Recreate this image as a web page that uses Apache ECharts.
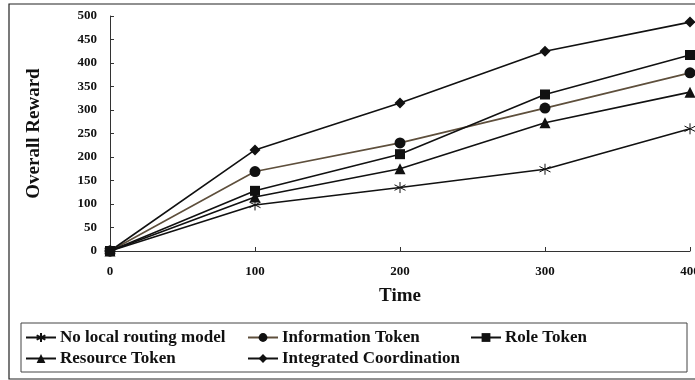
<!DOCTYPE html>
<html>
<head>
<meta charset="utf-8">
<script src="https://cdn.jsdelivr.net/npm/echarts@6/dist/echarts.min.js"></script>
<style>
  html, body { margin: 0; padding: 0; background: #fff; }
  #chart { width: 695px; height: 380px; }
</style>
</head>
<body>
<div id="chart"></div>
<script>
// data
var times = [0, 100, 200, 300, 400];
var noLocal = [0, 98, 135, 174, 260];
var infoToken = [0, 169, 230, 304, 379];
var roleToken = [0, 128, 206, 333, 417];
var resourceToken = [0, 115, 175, 273, 338];
var integrated = [0, 215, 315, 425, 487];
var yTicks = [0, 50, 100, 150, 200, 250, 300, 350, 400, 450, 500];

var font = 'Liberation Serif';
var starPath = 'path://M0,-10L0,10M-8.7,-5L8.7,5M-8.7,5L8.7,-5';

function pairs(arr) {
  return arr.map(function (v, i) { return [times[i], v]; });
}

function mkSeries(name, data, symbol, size, color) {
  return {
    name: name,
    type: 'line',
    data: pairs(data),
    symbol: symbol,
    symbolSize: size,
    showSymbol: true,
    lineStyle: { color: color, width: 1.6 },
    itemStyle: symbol === starPath
      ? { color: 'rgba(0,0,0,0)', borderColor: '#111', borderWidth: 1 }
      : { color: '#111', borderColor: '#111', borderWidth: 0 },
    emphasis: { disabled: true }
  };
}

function mkLegend(left, names) {
  return {
    left: left,
    top: 329,
    orient: 'vertical',
    itemWidth: 30,
    itemHeight: 11,
    itemGap: 4,
    padding: 0,
    textStyle: { fontFamily: font, fontWeight: 'bold', fontSize: 17, lineHeight: 17, color: '#111', padding: [0, 0, 0, -1] },
    data: names
  };
}

var chart = echarts.init(document.getElementById('chart'));
chart.setOption({
  animation: false,
  backgroundColor: '#fff',
  graphic: [
    { type: 'rect', shape: { x: 9, y: 4, width: 720, height: 375 },
      style: { fill: 'none', stroke: '#222', lineWidth: 1.2 }, z: -1 },
    { type: 'rect', shape: { x: 21, y: 323, width: 666, height: 49 },
      style: { fill: 'none', stroke: '#444', lineWidth: 1 }, z: -1 }
  ],
  grid: { left: 110, top: 16, right: 5, bottom: 129, outerBoundsMode: 'none', containLabel: false },
  legend: [
    mkLegend(25, ['No local routing model', 'Resource Token']),
    mkLegend(247, ['Information Token', 'Integrated Coordination']),
    mkLegend(470, ['Role Token'])
  ],
  xAxis: {
    type: 'value',
    min: 0,
    max: 400,
    interval: 100,
    name: 'Time',
    nameLocation: 'middle',
    nameGap: 36,
    nameTextStyle: { fontFamily: font, fontWeight: 'bold', fontSize: 19, color: '#111' },
    axisLine: { lineStyle: { color: '#333', width: 1 } },
    axisTick: { inside: true, length: 4, lineStyle: { color: '#333' } },
    axisLabel: { fontFamily: font, fontWeight: 'bold', fontSize: 13, color: '#111', margin: 14 },
    splitLine: { show: false }
  },
  yAxis: {
    type: 'value',
    min: yTicks[0],
    max: yTicks[yTicks.length - 1],
    interval: 50,
    name: 'Overall Reward',
    nameLocation: 'middle',
    nameGap: 66,
    nameTextStyle: { fontFamily: font, fontWeight: 'bold', fontSize: 19, color: '#111' },
    axisLine: { show: true, lineStyle: { color: '#333', width: 1 } },
    axisTick: { show: true, inside: true, length: 4, lineStyle: { color: '#333' } },
    axisLabel: { fontFamily: font, fontWeight: 'bold', fontSize: 13, color: '#111', margin: 13 },
    splitLine: { show: false }
  },
  series: [
    mkSeries('No local routing model', noLocal, starPath, 11, '#111'),
    mkSeries('Information Token', infoToken, 'circle', 11, '#5e4f3c'),
    mkSeries('Resource Token', resourceToken, 'triangle', 11, '#111'),
    mkSeries('Integrated Coordination', integrated, 'diamond', 11, '#111'),
    mkSeries('Role Token', roleToken, 'rect', 10, '#111')
  ]
});
</script>
</body>
</html>
